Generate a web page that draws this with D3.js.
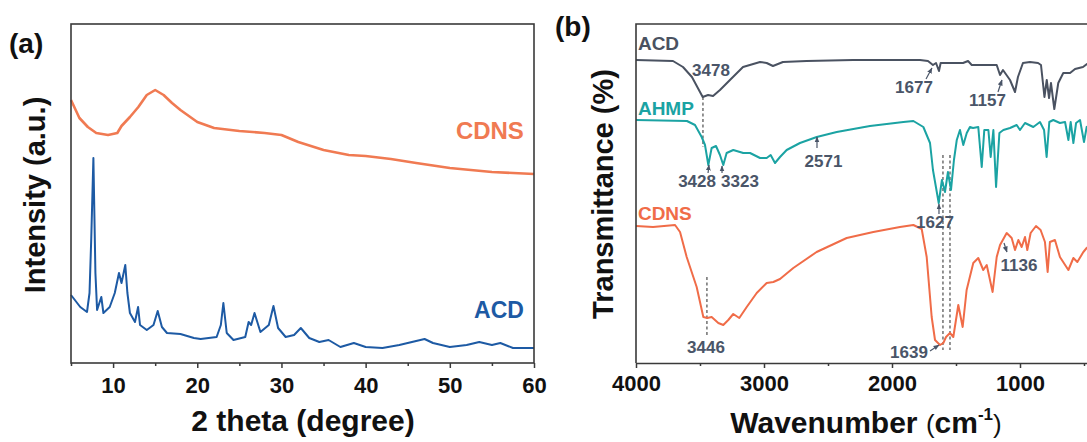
<!DOCTYPE html>
<html>
<head>
<meta charset="UTF-8">
<title>XRD and FTIR</title>
<script src="https://cdn.jsdelivr.net/npm/d3@7"></script>
<style>
body{margin:0;background:#fff;}
svg text{font-family:"Liberation Sans",Arial,sans-serif;font-weight:bold;}
</style>
</head>
<body>
<script>
// (a) XRD, [2theta, intensity a.u.]
var xrdCDNS = [[5,263],[6,245],[7,236],[8,230],[9.4,228],[10.5,230],[11,237],[12,246],[13,256],[14,268],[15,273],[16,268],
  [17,260],[18,253],[20,241],[22,235],[25,232],[28,230],[30,228],[32,221],[35,213],[38,208],[40,207],[43,204],
  [46,200],[50,195],[55,191],[60,189]];
var xrdACD = [[5,68],[6.1,56],[6.9,51],[7.2,70],[7.4,123],[7.66,205],[7.9,90],[8.1,53],[8.6,66],[8.85,50],[9.6,56],
  [10.2,70],[10.7,90],[11,80],[11.45,98],[11.7,70],[12,50],[12.6,41],[12.97,56],[13.2,38],[14,33],[14.8,38],
  [15.3,52],[15.8,36],[16.4,30],[18,29],[19.6,25],[20.4,24],[22.3,26],[22.8,38],[23.1,60],[23.5,30],[24.3,23],
  [25.7,26],[26.1,41],[26.4,38],[26.8,50],[27.5,31],[28.5,38],[29.05,57],[29.6,35],[30.5,26],[31.5,28],
  [32.3,35],[33.3,25],[34.5,21],[35.6,23],[37,16],[38.6,20],[40,16],[42,15],[44,18],[46,22],[47,24],[48,20],
  [50,16],[52,18],[53.5,21],[55,18],[56,20],[57.5,15],[60,15]];
var xrdTicks = [10,20,30,40,50,60];
var xrdMinor = [5,15,25,35,45,55];

// (b) FTIR, [wavenumber, transmittance a.u.]
var irACD = [[4000,303],[3711,302],[3633,296],[3563,286],[3500,271],[3479,266],[3437,268],[3398,267],[3344,273],
  [3266,283],[3164,296],[3031,301],[2979,300],[2930,297],[2852,301],[2667,302],[2305,303],[1781,303],[1719,302],
  [1680,298],[1656,300],[1633,292],[1620,300],[1523,300],[1445,300],[1406,302],[1377,298],[1260,298],[1182,298],
  [1156,288],[1133,293],[1078,283],[1039,271],[1016,286],[977,300],[922,301],[859,300],[836,298],[809,266],
  [791,283],[773,265],[758,280],[732,254],[701,280],[662,290],[609,290],[570,294],[508,296],[477,299],[400,301]];
var irAHMP = [[4000,243],[3602,242],[3539,238],[3487,226],[3461,218],[3435,198],[3409,215],[3375,217],[3344,208],
  [3318,198],[3292,210],[3240,213],[3162,210],[3109,210],[3031,205],[2979,205],[2948,208],[2914,200],[2875,206],
  [2823,213],[2719,220],[2588,226],[2432,231],[2172,237],[1911,241],[1833,242],[1755,236],[1703,220],[1680,193],
  [1635,160],[1610,183],[1586,171],[1563,191],[1539,173],[1516,203],[1494,223],[1469,233],[1443,218],[1416,230],
  [1391,236],[1367,235],[1326,236],[1299,196],[1279,233],[1247,233],[1229,206],[1208,233],[1187,176],[1161,230],
  [1130,233],[1078,235],[1026,238],[1000,233],[961,240],[896,236],[844,241],[812,233],[792,206],[771,241],
  [740,243],[688,240],[648,241],[622,223],[604,241],[583,220],[562,240],[531,243],[500,221],[479,236],[400,241]];
var irCDNS = [[4000,137],[3867,136],[3695,138],[3656,131],[3604,106],[3526,76],[3474,46],[3443,45],[3409,46],
  [3357,40],[3318,38],[3279,43],[3240,49],[3193,45],[3135,56],[3057,70],[2979,80],[2927,81],[2875,84],[2771,95],
  [2589,111],[2354,125],[2146,131],[1938,136],[1833,138],[1768,134],[1729,106],[1690,46],[1664,23],[1625,18],
  [1599,20],[1578,26],[1547,30],[1521,26],[1482,58],[1448,36],[1417,73],[1365,100],[1326,105],[1287,93],
  [1260,98],[1214,71],[1182,106],[1156,118],[1104,130],[1065,125],[1039,113],[1013,123],[987,116],[961,126],
  [943,113],[917,130],[875,137],[839,133],[805,121],[784,91],[766,121],[727,123],[688,106],[622,93],[583,105],
  [552,101],[505,111],[479,115],[400,123]];
var irTicks = [4000,3000,2000,1000];
var irMinor = [3500,2500,1500,500];

// peak notes: text, wavenumber, level
var irNotes = [["3478",3414,287],["1677",1828,270],["1157",1254,257],["2571",2535,196],["3428",3523,176],
  ["3323",3188,176],["1627",1664,135],["3446",3453,10],["1639",1867,5],["1136",1008,92]];
// arrows: from [wn, level] to [wn, level]
var irArrows = [[1734,284,1688,295],[1172,271,1141,283],[2586,215,2586,226],[3437,190,3430,198],
  [3328,190,3328,197],[1633,149,1633,159],[1703,12,1633,18],[1125,120,1102,111]];
// dashed guides: wavenumber, top level, bottom level
var irDashes = [[3477,266,216],[3446,86,28],[1602,208,13],[1547,208,13]];

var W = 1087, H = 442;
var svg = d3.select("body").append("svg").attr("width", W).attr("height", H);
svg.append("rect").attr("width", W).attr("height", H).attr("fill", "#fff");

var defs = svg.append("defs");
defs.append("marker").attr("id", "ah").attr("viewBox", "0 0 10 10").attr("refX", 9).attr("refY", 5)
  .attr("markerWidth", 5).attr("markerHeight", 5).attr("orient", "auto")
  .append("path").attr("d", "M0,1L10,5L0,9Z").attr("fill", "#4a5568");

// ---------- panel (a)
var xa = d3.scaleLinear().domain([5, 60]).range([71, 534]);
var ya = d3.scaleLinear().domain([0, 339]).range([363, 24]);
var la = d3.line().x(d => xa(d[0])).y(d => ya(d[1]));

svg.append("path").datum(xrdCDNS).attr("d", la).attr("fill", "none")
  .attr("stroke", "#f07a52").attr("stroke-width", 2.6).attr("stroke-linejoin", "round");
svg.append("path").datum(xrdACD).attr("d", la).attr("fill", "none")
  .attr("stroke", "#1d5aa4").attr("stroke-width", 2).attr("stroke-linejoin", "round");

svg.append("rect").attr("x", 71).attr("y", 24).attr("width", 534 - 71).attr("height", 363 - 24)
  .attr("fill", "none").attr("stroke", "#3a3a3a").attr("stroke-width", 1.6);

var axA = svg.append("g").attr("transform", "translate(0,363)")
  .call(d3.axisBottom(xa).tickValues(xrdTicks).tickSize(5).tickSizeOuter(0).tickFormat(d3.format("d")));
axA.select(".domain").remove();
axA.selectAll("line").attr("stroke", "#3a3a3a").attr("stroke-width", 1.5);
axA.selectAll("text").attr("y", 30).attr("dy", 0).attr("font-size", 22).attr("fill", "#111");
var axAm = svg.append("g").attr("transform", "translate(0,363)")
  .call(d3.axisBottom(xa).tickValues(xrdMinor).tickSize(3).tickFormat(""));
axAm.select(".domain").remove();
axAm.selectAll("line").attr("stroke", "#3a3a3a").attr("stroke-width", 1.5);

svg.append("text").attr("x", xa(58.8)).attr("y", ya(224)).attr("text-anchor", "end")
  .attr("font-size", 24).attr("fill", "#f07a52").text("CDNS");
svg.append("text").attr("x", xa(58.8)).attr("y", ya(45)).attr("text-anchor", "end")
  .attr("font-size", 23).attr("fill", "#1d5aa4").text("ACD");

svg.append("text").attr("x", 303).attr("y", 431).attr("text-anchor", "middle")
  .attr("font-size", 30).attr("fill", "#111").text("2 theta (degree)");
svg.append("text").attr("transform", "translate(45,195) rotate(-90)").attr("text-anchor", "middle")
  .attr("font-size", 29).attr("fill", "#111").text("Intensity (a.u.)");
svg.append("text").attr("x", 9).attr("y", 53).attr("font-size", 28).attr("fill", "#111").text("(a)");

// ---------- panel (b)
var xb = d3.scaleLinear().domain([4000, 400]).range([636, 1096.8]);
var yb = d3.scaleLinear().domain([0, 339]).range([363, 24]);
var lb = d3.line().x(d => xb(d[0])).y(d => yb(d[1]));

irDashes.forEach(function(d) {
  svg.append("line").attr("x1", xb(d[0])).attr("x2", xb(d[0])).attr("y1", yb(d[1])).attr("y2", yb(d[2]))
    .attr("stroke", "#707070").attr("stroke-width", 1.5).attr("stroke-dasharray", "3,2.5");
});

var series = [[irACD, "#4a5261"], [irAHMP, "#1ba3a3"], [irCDNS, "#f06c48"]];
series.forEach(function(s) {
  svg.append("path").datum(s[0]).attr("d", lb).attr("fill", "none")
    .attr("stroke", s[1]).attr("stroke-width", 2).attr("stroke-linejoin", "round");
});

svg.append("path").attr("d", "M636,363V24H" + W).attr("fill", "none")
  .attr("stroke", "#3a3a3a").attr("stroke-width", 1.6);
var axB = svg.append("g").attr("transform", "translate(0,363)")
  .call(d3.axisBottom(xb).tickValues(irTicks).tickSize(5).tickSizeOuter(0).tickFormat(d3.format("d")));
axB.select(".domain").attr("stroke", "#3a3a3a").attr("stroke-width", 1.6);
axB.selectAll("line").attr("stroke", "#3a3a3a").attr("stroke-width", 1.5);
axB.selectAll("text").attr("y", 28).attr("dy", 0).attr("font-size", 22).attr("fill", "#111");
var axBm = svg.append("g").attr("transform", "translate(0,363)")
  .call(d3.axisBottom(xb).tickValues(irMinor).tickSize(3).tickFormat(""));
axBm.select(".domain").remove();
axBm.selectAll("line").attr("stroke", "#3a3a3a").attr("stroke-width", 1.5);

svg.append("text").attr("x", xb(3985)).attr("y", yb(313)).attr("font-size", 19).attr("fill", "#4a5261").text("ACD");
svg.append("text").attr("x", xb(3985)).attr("y", yb(248)).attr("font-size", 19).attr("fill", "#1ba3a3").text("AHMP");
svg.append("text").attr("x", xb(3985)).attr("y", yb(143)).attr("font-size", 19).attr("fill", "#f06c48").text("CDNS");

irNotes.forEach(function(n) {
  svg.append("text").attr("x", xb(n[1])).attr("y", yb(n[2])).attr("text-anchor", "middle")
    .attr("font-size", 17).attr("fill", "#4a5568").text(n[0]);
});
irArrows.forEach(function(a) {
  svg.append("line").attr("x1", xb(a[0])).attr("y1", yb(a[1])).attr("x2", xb(a[2])).attr("y2", yb(a[3]))
    .attr("stroke", "#4a5568").attr("stroke-width", 1.2).attr("marker-end", "url(#ah)");
});

var wt = svg.append("text").attr("x", 866).attr("y", 433).attr("text-anchor", "middle")
  .attr("font-size", 30).attr("fill", "#111");
wt.append("tspan").text("Wavenumber ");
wt.append("tspan").attr("font-weight", "normal").attr("font-size", 26).text("(");
wt.append("tspan").text("cm");
wt.append("tspan").attr("font-size", 17).attr("dy", -13).text("-1");
wt.append("tspan").attr("font-weight", "normal").attr("font-size", 26).attr("dy", 13).text(")");
svg.append("text").attr("transform", "translate(613,194) rotate(-90)").attr("text-anchor", "middle")
  .attr("font-size", 29).attr("fill", "#111").text("Transmittance (%)");
svg.append("text").attr("x", 555).attr("y", 36).attr("font-size", 28).attr("fill", "#111").text("(b)");
</script>
</body>
</html>
